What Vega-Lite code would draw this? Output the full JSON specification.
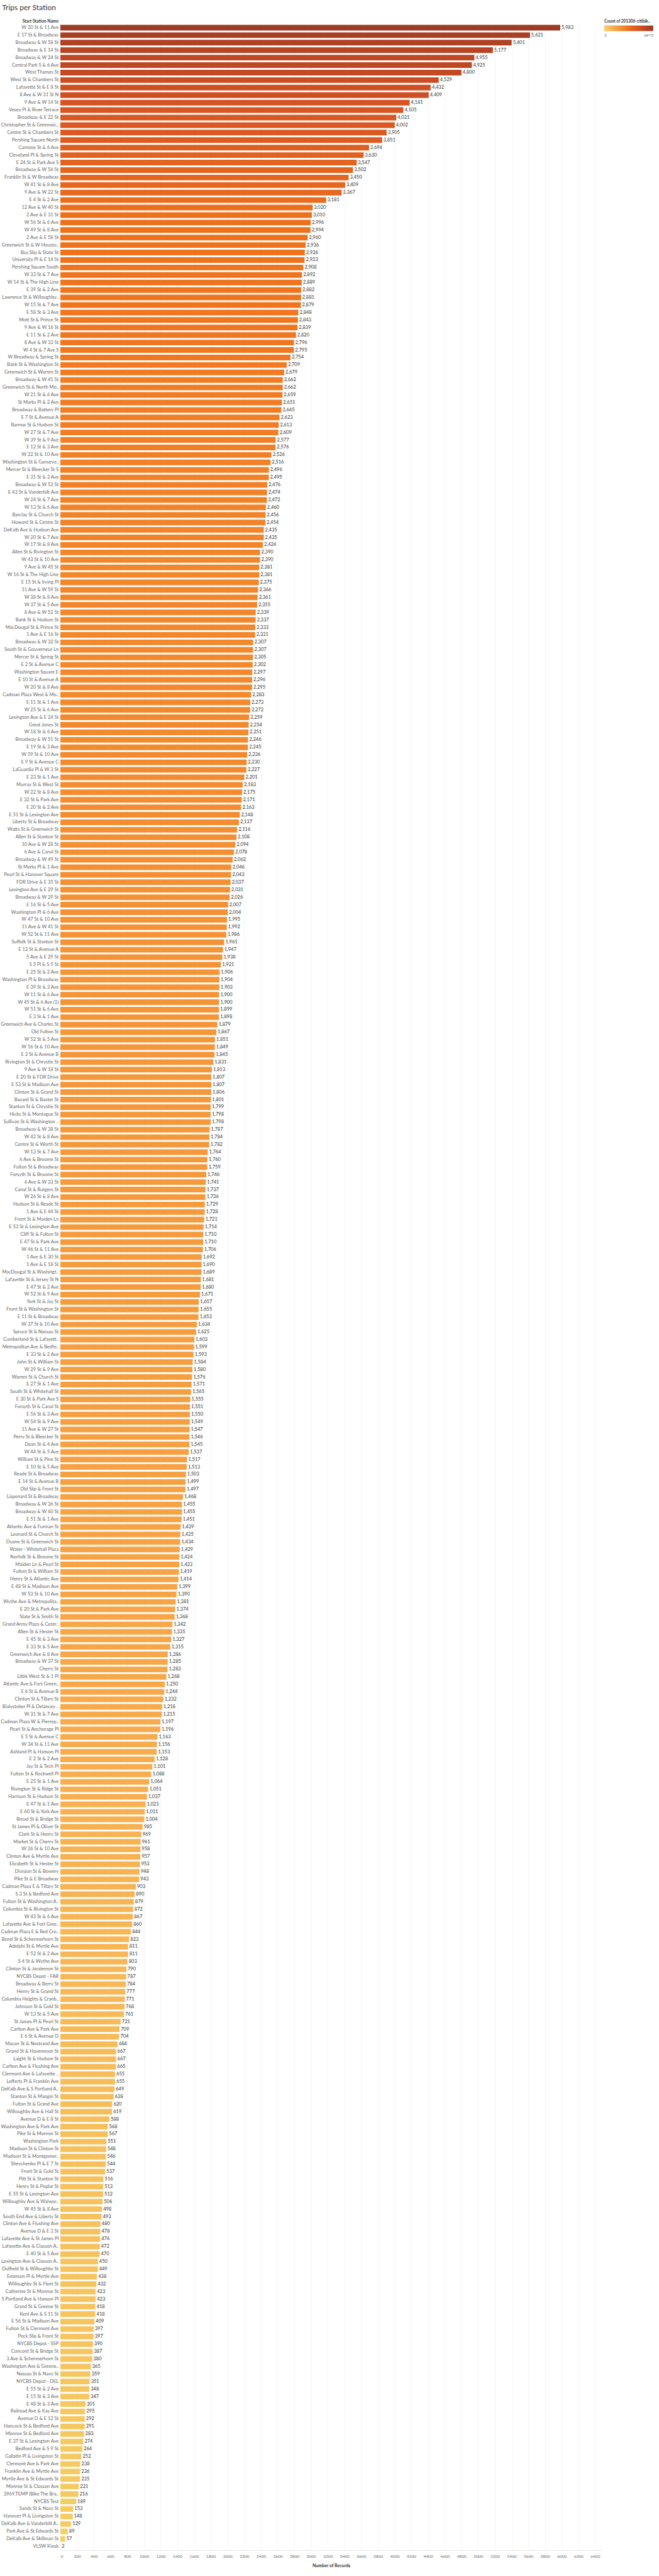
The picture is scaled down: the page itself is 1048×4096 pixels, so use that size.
{
"$schema": "https://vega.github.io/schema/vega-lite/v6.json",
"autosize": {"type": "none"},
"padding": {"left": 96, "top": 38, "right": 91, "bottom": 41},
"width": 861,
"height": 4017,
"background": "white",
"title": {"text": "Trips per Station", "anchor": "start", "frame": "group", "dx": -92.7, "offset": 2, "fontSize": 12, "font": "Lato", "fontWeight": "normal", "color": "#333333", "baseline": "alphabetic"},
"data": {"values": [
{"station":"W 20 St & 11 Ave","trips":5983},
{"station":"E 17 St & Broadway","trips":5621},
{"station":"Broadway & W 58 St","trips":5401},
{"station":"Broadway & E 14 St","trips":5177},
{"station":"Broadway & W 24 St","trips":4955},
{"station":"Central Park S & 6 Ave","trips":4925},
{"station":"West Thames St","trips":4800},
{"station":"West St & Chambers St","trips":4529},
{"station":"Lafayette St & E 8 St","trips":4432},
{"station":"8 Ave & W 31 St N","trips":4409},
{"station":"9 Ave & W 14 St","trips":4181},
{"station":"Vesey Pl & River Terrace","trips":4105},
{"station":"Broadway & E 22 St","trips":4021},
{"station":"Christopher St & Greenwic..","trips":4002},
{"station":"Centre St & Chambers St","trips":3905},
{"station":"Pershing Square North","trips":3851},
{"station":"Carmine St & 6 Ave","trips":3694},
{"station":"Cleveland Pl & Spring St","trips":3630},
{"station":"E 24 St & Park Ave S","trips":3547},
{"station":"Broadway & W 56 St","trips":3502},
{"station":"Franklin St & W Broadway","trips":3450},
{"station":"W 41 St & 8 Ave","trips":3409},
{"station":"9 Ave & W 22 St","trips":3367},
{"station":"E 4 St & 2 Ave","trips":3181},
{"station":"12 Ave & W 40 St","trips":3020},
{"station":"2 Ave & E 31 St","trips":3010},
{"station":"W 56 St & 6 Ave","trips":2996},
{"station":"W 49 St & 8 Ave","trips":2994},
{"station":"2 Ave & E 58 St","trips":2960},
{"station":"Greenwich St & W Housto..","trips":2936},
{"station":"Bus Slip & State St","trips":2926},
{"station":"University Pl & E 14 St","trips":2923},
{"station":"Pershing Square South","trips":2908},
{"station":"W 33 St & 7 Ave","trips":2892},
{"station":"W 14 St & The High Line","trips":2889},
{"station":"E 39 St & 2 Ave","trips":2882},
{"station":"Lawrence St & Willoughby..","trips":2881},
{"station":"W 15 St & 7 Ave","trips":2879},
{"station":"E 58 St & 3 Ave","trips":2848},
{"station":"Mott St & Prince St","trips":2843},
{"station":"9 Ave & W 16 St","trips":2839},
{"station":"E 11 St & 2 Ave","trips":2820},
{"station":"8 Ave & W 33 St","trips":2796},
{"station":"W 4 St & 7 Ave S","trips":2795},
{"station":"W Broadway & Spring St","trips":2754},
{"station":"Bank St & Washington St","trips":2709},
{"station":"Greenwich St & Warren St","trips":2679},
{"station":"Broadway & W 41 St","trips":2662},
{"station":"Greenwich St & North Mo..","trips":2662},
{"station":"W 21 St & 6 Ave","trips":2659},
{"station":"St Marks Pl & 2 Ave","trips":2651},
{"station":"Broadway & Battery Pl","trips":2645},
{"station":"E 7 St & Avenue A","trips":2623},
{"station":"Barrow St & Hudson St","trips":2613},
{"station":"W 27 St & 7 Ave","trips":2609},
{"station":"W 39 St & 9 Ave","trips":2577},
{"station":"E 12 St & 3 Ave","trips":2576},
{"station":"W 22 St & 10 Ave","trips":2526},
{"station":"Washington St & Gansevo..","trips":2516},
{"station":"Mercer St & Bleecker St S","trips":2496},
{"station":"E 31 St & 3 Ave","trips":2495},
{"station":"Broadway & W 53 St","trips":2476},
{"station":"E 43 St & Vanderbilt Ave","trips":2474},
{"station":"W 24 St & 7 Ave","trips":2472},
{"station":"W 13 St & 6 Ave","trips":2460},
{"station":"Barclay St & Church St","trips":2456},
{"station":"Howard St & Centre St","trips":2454},
{"station":"DeKalb Ave & Hudson Ave","trips":2435},
{"station":"W 20 St & 7 Ave","trips":2435},
{"station":"W 17 St & 8 Ave","trips":2424},
{"station":"Allen St & Rivington St","trips":2390},
{"station":"W 43 St & 10 Ave","trips":2390},
{"station":"9 Ave & W 45 St","trips":2381},
{"station":"W 16 St & The High Line","trips":2381},
{"station":"E 15 St & Irving Pl","trips":2375},
{"station":"11 Ave & W 59 St","trips":2366},
{"station":"W 38 St & 8 Ave","trips":2361},
{"station":"W 37 St & 5 Ave","trips":2355},
{"station":"8 Ave & W 52 St","trips":2339},
{"station":"Bank St & Hudson St","trips":2337},
{"station":"MacDougal St & Prince St","trips":2333},
{"station":"1 Ave & E 16 St","trips":2331},
{"station":"Broadway & W 32 St","trips":2307},
{"station":"South St & Gouverneur Ln","trips":2307},
{"station":"Mercer St & Spring St","trips":2305},
{"station":"E 2 St & Avenue C","trips":2302},
{"station":"Washington Square E","trips":2297},
{"station":"E 10 St & Avenue A","trips":2296},
{"station":"W 20 St & 8 Ave","trips":2295},
{"station":"Cadman Plaza West & Mo..","trips":2283},
{"station":"E 11 St & 1 Ave","trips":2273},
{"station":"W 25 St & 6 Ave","trips":2272},
{"station":"Lexington Ave & E 24 St","trips":2259},
{"station":"Great Jones St","trips":2254},
{"station":"W 18 St & 6 Ave","trips":2251},
{"station":"Broadway & W 51 St","trips":2246},
{"station":"E 19 St & 3 Ave","trips":2245},
{"station":"W 59 St & 10 Ave","trips":2236},
{"station":"E 9 St & Avenue C","trips":2230},
{"station":"LaGuardia Pl & W 3 St","trips":2227},
{"station":"E 23 St & 1 Ave","trips":2201},
{"station":"Murray St & West St","trips":2183},
{"station":"W 22 St & 8 Ave","trips":2175},
{"station":"E 32 St & Park Ave","trips":2171},
{"station":"E 20 St & 2 Ave","trips":2163},
{"station":"E 51 St & Lexington Ave","trips":2148},
{"station":"Liberty St & Broadway","trips":2137},
{"station":"Watts St & Greenwich St","trips":2116},
{"station":"Allen St & Stanton St","trips":2108},
{"station":"10 Ave & W 28 St","trips":2094},
{"station":"6 Ave & Canal St","trips":2078},
{"station":"Broadway & W 49 St","trips":2062},
{"station":"St Marks Pl & 1 Ave","trips":2046},
{"station":"Pearl St & Hanover Square","trips":2043},
{"station":"FDR Drive & E 35 St","trips":2037},
{"station":"Lexington Ave & E 29 St","trips":2031},
{"station":"Broadway & W 29 St","trips":2026},
{"station":"E 16 St & 5 Ave","trips":2007},
{"station":"Washington Pl & 6 Ave","trips":2004},
{"station":"W 47 St & 10 Ave","trips":1995},
{"station":"11 Ave & W 41 St","trips":1992},
{"station":"W 52 St & 11 Ave","trips":1986},
{"station":"Suffolk St & Stanton St","trips":1961},
{"station":"E 13 St & Avenue A","trips":1947},
{"station":"5 Ave & E 29 St","trips":1938},
{"station":"S 5 Pl & S 5 St","trips":1921},
{"station":"E 25 St & 2 Ave","trips":1906},
{"station":"Washington Pl & Broadway","trips":1904},
{"station":"E 39 St & 3 Ave","trips":1903},
{"station":"W 11 St & 6 Ave","trips":1900},
{"station":"W 45 St & 6 Ave (1)","trips":1900},
{"station":"W 51 St & 6 Ave","trips":1899},
{"station":"E 3 St & 1 Ave","trips":1898},
{"station":"Greenwich Ave & Charles St","trips":1879},
{"station":"Old Fulton St","trips":1867},
{"station":"W 52 St & 5 Ave","trips":1851},
{"station":"W 56 St & 10 Ave","trips":1849},
{"station":"E 2 St & Avenue B","trips":1845},
{"station":"Rivington St & Chrystie St","trips":1831},
{"station":"9 Ave & W 18 St","trips":1813},
{"station":"E 20 St & FDR Drive","trips":1807},
{"station":"E 53 St & Madison Ave","trips":1807},
{"station":"Clinton St & Grand St","trips":1806},
{"station":"Bayard St & Baxter St","trips":1801},
{"station":"Stanton St & Chrystie St","trips":1799},
{"station":"Hicks St & Montague St","trips":1798},
{"station":"Sullivan St & Washington ..","trips":1798},
{"station":"Broadway & W 38 St","trips":1787},
{"station":"W 42 St & 8 Ave","trips":1784},
{"station":"Centre St & Worth St","trips":1782},
{"station":"W 13 St & 7 Ave","trips":1764},
{"station":"6 Ave & Broome St","trips":1760},
{"station":"Fulton St & Broadway","trips":1759},
{"station":"Forsyth St & Broome St","trips":1746},
{"station":"6 Ave & W 33 St","trips":1741},
{"station":"Canal St & Rutgers St","trips":1737},
{"station":"W 26 St & 8 Ave","trips":1736},
{"station":"Hudson St & Reade St","trips":1729},
{"station":"1 Ave & E 44 St","trips":1728},
{"station":"Front St & Maiden Ln","trips":1721},
{"station":"E 53 St & Lexington Ave","trips":1714},
{"station":"Cliff St & Fulton St","trips":1710},
{"station":"E 47 St & Park Ave","trips":1710},
{"station":"W 46 St & 11 Ave","trips":1706},
{"station":"1 Ave & E 30 St","trips":1692},
{"station":"1 Ave & E 18 St","trips":1690},
{"station":"MacDougal St & Washingt..","trips":1689},
{"station":"Lafayette St & Jersey St N","trips":1681},
{"station":"E 47 St & 2 Ave","trips":1680},
{"station":"W 52 St & 9 Ave","trips":1671},
{"station":"York St & Jay St","trips":1657},
{"station":"Front St & Washington St","trips":1655},
{"station":"E 11 St & Broadway","trips":1653},
{"station":"W 37 St & 10 Ave","trips":1634},
{"station":"Spruce St & Nassau St","trips":1625},
{"station":"Cumberland St & Lafayett..","trips":1603},
{"station":"Metropolitan Ave & Bedfo..","trips":1599},
{"station":"E 33 St & 2 Ave","trips":1593},
{"station":"John St & William St","trips":1584},
{"station":"W 29 St & 9 Ave","trips":1580},
{"station":"Warren St & Church St","trips":1576},
{"station":"E 27 St & 1 Ave","trips":1571},
{"station":"South St & Whitehall St","trips":1565},
{"station":"E 30 St & Park Ave S","trips":1555},
{"station":"Forsyth St & Canal St","trips":1551},
{"station":"E 56 St & 3 Ave","trips":1550},
{"station":"W 54 St & 9 Ave","trips":1549},
{"station":"11 Ave & W 27 St","trips":1547},
{"station":"Perry St & Bleecker St","trips":1546},
{"station":"Dean St & 4 Ave","trips":1545},
{"station":"W 44 St & 5 Ave","trips":1537},
{"station":"William St & Pine St","trips":1517},
{"station":"E 10 St & 5 Ave","trips":1513},
{"station":"Reade St & Broadway","trips":1503},
{"station":"E 14 St & Avenue B","trips":1499},
{"station":"Old Slip & Front St","trips":1497},
{"station":"Lispenard St & Broadway","trips":1468},
{"station":"Broadway & W 36 St","trips":1455},
{"station":"Broadway & W 60 St","trips":1455},
{"station":"E 51 St & 1 Ave","trips":1451},
{"station":"Atlantic Ave & Furman St","trips":1439},
{"station":"Leonard St & Church St","trips":1435},
{"station":"Duane St & Greenwich St","trips":1434},
{"station":"Water - Whitehall Plaza","trips":1429},
{"station":"Norfolk St & Broome St","trips":1424},
{"station":"Maiden Ln & Pearl St","trips":1423},
{"station":"Fulton St & William St","trips":1419},
{"station":"Henry St & Atlantic Ave","trips":1414},
{"station":"E 48 St & Madison Ave","trips":1399},
{"station":"W 53 St & 10 Ave","trips":1390},
{"station":"Wythe Ave & Metropolita..","trips":1381},
{"station":"E 20 St & Park Ave","trips":1374},
{"station":"State St & Smith St","trips":1368},
{"station":"Grand Army Plaza & Centr..","trips":1342},
{"station":"Allen St & Hester St","trips":1335},
{"station":"E 45 St & 3 Ave","trips":1327},
{"station":"E 33 St & 5 Ave","trips":1315},
{"station":"Greenwich Ave & 8 Ave","trips":1286},
{"station":"Broadway & W 37 St","trips":1285},
{"station":"Cherry St","trips":1283},
{"station":"Little West St & 1 Pl","trips":1268},
{"station":"Atlantic Ave & Fort Green..","trips":1250},
{"station":"E 6 St & Avenue B","trips":1244},
{"station":"Clinton St & Tillary St","trips":1232},
{"station":"Bialystoker Pl & Delancey ..","trips":1218},
{"station":"W 31 St & 7 Ave","trips":1215},
{"station":"Cadman Plaza W & Pierrep..","trips":1197},
{"station":"Pearl St & Anchorage Pl","trips":1196},
{"station":"E 5 St & Avenue C","trips":1163},
{"station":"W 34 St & 11 Ave","trips":1156},
{"station":"Ashland Pl & Hanson Pl","trips":1153},
{"station":"E 2 St & 2 Ave","trips":1128},
{"station":"Jay St & Tech Pl","trips":1101},
{"station":"Fulton St & Rockwell Pl","trips":1088},
{"station":"E 25 St & 1 Ave","trips":1064},
{"station":"Rivington St & Ridge St","trips":1051},
{"station":"Harrison St & Hudson St","trips":1037},
{"station":"E 47 St & 1 Ave","trips":1021},
{"station":"E 60 St & York Ave","trips":1011},
{"station":"Broad St & Bridge St","trips":1004},
{"station":"St James Pl & Oliver St","trips":985},
{"station":"Clark St & Henry St","trips":969},
{"station":"Market St & Cherry St","trips":961},
{"station":"W 26 St & 10 Ave","trips":958},
{"station":"Clinton Ave & Myrtle Ave","trips":957},
{"station":"Elizabeth St & Hester St","trips":953},
{"station":"Division St & Bowery","trips":948},
{"station":"Pike St & E Broadway","trips":943},
{"station":"Cadman Plaza E & Tillary St","trips":903},
{"station":"S 3 St & Bedford Ave","trips":890},
{"station":"Fulton St & Washington A..","trips":879},
{"station":"Columbia St & Rivington St","trips":872},
{"station":"W 43 St & 6 Ave","trips":867},
{"station":"Lafayette Ave & Fort Gree..","trips":860},
{"station":"Cadman Plaza E & Red Cro..","trips":844},
{"station":"Bond St & Schermerhorn St","trips":823},
{"station":"Adelphi St & Myrtle Ave","trips":811},
{"station":"E 52 St & 2 Ave","trips":811},
{"station":"S 4 St & Wythe Ave","trips":803},
{"station":"Clinton St & Joralemon St","trips":790},
{"station":"NYCBS Depot - FAR","trips":787},
{"station":"Broadway & Berry St","trips":784},
{"station":"Henry St & Grand St","trips":777},
{"station":"Columbia Heights & Cranb..","trips":771},
{"station":"Johnson St & Gold St","trips":768},
{"station":"W 13 St & 5 Ave","trips":761},
{"station":"St James Pl & Pearl St","trips":721},
{"station":"Carlton Ave & Park Ave","trips":709},
{"station":"E 6 St & Avenue D","trips":704},
{"station":"Macon St & Nostrand Ave","trips":684},
{"station":"Grand St & Havemeyer St","trips":667},
{"station":"Laight St & Hudson St","trips":667},
{"station":"Carlton Ave & Flushing Ave","trips":665},
{"station":"Clermont Ave & Lafayette ..","trips":655},
{"station":"Lefferts Pl & Franklin Ave","trips":655},
{"station":"DeKalb Ave & S Portland A..","trips":649},
{"station":"Stanton St & Mangin St","trips":638},
{"station":"Fulton St & Grand Ave","trips":620},
{"station":"Willoughby Ave & Hall St","trips":619},
{"station":"Avenue D & E 8 St","trips":588},
{"station":"Washington Ave & Park Ave","trips":568},
{"station":"Pike St & Monroe St","trips":567},
{"station":"Washington Park","trips":551},
{"station":"Madison St & Clinton St","trips":548},
{"station":"Madison St & Montgomer..","trips":546},
{"station":"Shevchenko Pl & E 7 St","trips":544},
{"station":"Front St & Gold St","trips":537},
{"station":"Pitt St & Stanton St","trips":516},
{"station":"Henry St & Poplar St","trips":513},
{"station":"E 55 St & Lexington Ave","trips":512},
{"station":"Willoughby Ave & Walwor..","trips":506},
{"station":"W 45 St & 8 Ave","trips":498},
{"station":"South End Ave & Liberty St","trips":493},
{"station":"Clinton Ave & Flushing Ave","trips":480},
{"station":"Avenue D & E 3 St","trips":478},
{"station":"Lafayette Ave & St James Pl","trips":476},
{"station":"Lafayette Ave & Classon A..","trips":472},
{"station":"E 40 St & 5 Ave","trips":470},
{"station":"Lexington Ave & Classon A..","trips":450},
{"station":"Duffield St & Willoughby St","trips":449},
{"station":"Emerson Pl & Myrtle Ave","trips":438},
{"station":"Willoughby St & Fleet St","trips":432},
{"station":"Catherine St & Monroe St","trips":423},
{"station":"S Portland Ave & Hanson Pl","trips":423},
{"station":"Grand St & Greene St","trips":418},
{"station":"Kent Ave & S 11 St","trips":418},
{"station":"E 56 St & Madison Ave","trips":409},
{"station":"Fulton St & Clermont Ave","trips":397},
{"station":"Peck Slip & Front St","trips":397},
{"station":"NYCBS Depot - SSP","trips":390},
{"station":"Concord St & Bridge St","trips":387},
{"station":"3 Ave & Schermerhorn St","trips":380},
{"station":"Washington Ave & Greene..","trips":365},
{"station":"Nassau St & Navy St","trips":359},
{"station":"NYCBS Depot - DEL","trips":351},
{"station":"E 55 St & 2 Ave","trips":348},
{"station":"E 15 St & 3 Ave","trips":347},
{"station":"E 48 St & 3 Ave","trips":301},
{"station":"Railroad Ave & Kay Ave","trips":295},
{"station":"Avenue D & E 12 St","trips":292},
{"station":"Hancock St & Bedford Ave","trips":291},
{"station":"Monroe St & Bedford Ave","trips":283},
{"station":"E 37 St & Lexington Ave","trips":274},
{"station":"Bedford Ave & S 9 St","trips":264},
{"station":"Gallatin Pl & Livingston St","trips":252},
{"station":"Clermont Ave & Park Ave","trips":238},
{"station":"Franklin Ave & Myrtle Ave","trips":236},
{"station":"Myrtle Ave & St Edwards St","trips":235},
{"station":"Monroe St & Classon Ave","trips":221},
{"station":"3969.TEMP (Bike The Bra..","trips":216},
{"station":"NYCBS Test","trips":189},
{"station":"Sands St & Navy St","trips":153},
{"station":"Hanover Pl & Livingston St","trips":148},
{"station":"DeKalb Ave & Vanderbilt A..","trips":129},
{"station":"Park Ave & St Edwards St","trips":89},
{"station":"DeKalb Ave & Skillman St","trips":57},
{"station":"VLSW Kiosk","trips":2}
]},
"encoding": {
  "y": {"field": "station", "type": "nominal", "sort": null,
        "scale": {"paddingInner": 0.25, "paddingOuter": 0.125},
        "axis": {"title": "Start Station Name", "titleAngle": 0, "titleAlign": "right", "titleBaseline": "bottom", "titleX": -3.3, "titleY": -2, "titleFontSize": 6.8, "titleFont": "Lato", "titleFontWeight": "bold", "titleColor": "#333333",
                 "labelFont": "Lato", "labelFontSize": 7.5, "labelColor": "#666666", "labelPadding": 3.3, "ticks": false, "domain": false, "labelLimit": 200, "grid": false}},
  "x": {"field": "trips", "type": "quantitative",
        "scale": {"domain": [0, 6480], "nice": false, "zero": true},
        "axis": {"title": "Number of Records", "values": [0,200,400,600,800,1000,1200,1400,1600,1800,2000,2200,2400,2600,2800,3000,3200,3400,3600,3800,4000,4200,4400,4600,4800,5000,5200,5400,5600,5800,6000,6200,6400],
                 "format": "d", "labelFont": "Lato", "labelFontSize": 6.5, "labelColor": "#666666", "grid": true, "gridColor": "#efefef", "gridWidth": 0.7, "ticks": false, "domain": true, "domainColor": "#e6e6e6", "labelPadding": 6,
                 "titleFont": "Lato", "titleFontSize": 7, "titleColor": "#333333", "titleFontWeight": "bold", "titlePadding": 8}}
},
"layer": [
  {"mark": {"type": "bar"},
   "encoding": {"color": {"field": "trips", "type": "quantitative",
      "scale": {"scheme": "goldorange", "domain": [2, 5983]},
      "legend": {"title": "Count of 201306-citibik..", "orient": "none", "legendX": 865, "legendY": -7, "direction": "horizontal", "gradientLength": 78, "gradientThickness": 9, "values": [2, 5983], "format": ",",
                 "labelFont": "Lato", "labelFontSize": 6.5, "labelColor": "#666666", "titleFont": "Lato", "titleFontSize": 6.5, "titleFontWeight": "bold", "titleColor": "#333333", "titlePadding": 3, "titleLimit": 120, "labelOffset": 3, "gradientStrokeColor": "#cccccc", "gradientStrokeWidth": 0.5}}}},
  {"mark": {"type": "text", "align": "left", "baseline": "middle", "dx": 2, "fontSize": 7.5, "font": "Lato", "color": "#333333"},
   "encoding": {"text": {"field": "trips", "type": "quantitative", "format": ","}}}
],
"config": {"view": {"stroke": null}}
}
